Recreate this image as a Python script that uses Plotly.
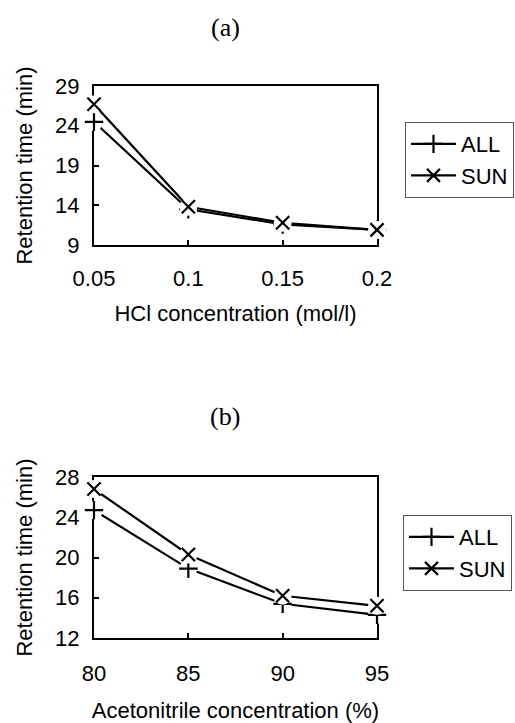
import plotly.graph_objects as go

# ---- data ----
hcl_conc = [0.05, 0.1, 0.15, 0.2]
hcl_all = [24.5, 13.5, 11.6, 10.9]
hcl_sun = [26.7, 13.8, 11.8, 10.9]

acn_conc = [80, 85, 90, 95]
acn_all = [24.7, 18.9, 15.4, 14.3]
acn_sun = [26.8, 20.3, 16.2, 15.2]

series_names = ["ALL", "SUN"]
hcl_ticks = ["0.05", "0.1", "0.15", "0.2"]
acn_ticks = ["80", "85", "90", "95"]
hcl_yticks = [9, 14, 19, 24, 29]
acn_yticks = [12, 16, 20, 24, 28]

W, H = 515, 723
FONT = "Liberation Sans"
symbols = ["cross-thin", "x-thin"]

fig = go.Figure()


def add_panel(x, ys, xa, ya, legend):
    for name, y, sym in zip(series_names, ys, symbols):
        fig.add_trace(go.Scatter(
            x=x, y=y, name=name, mode="lines+markers", xaxis=xa, yaxis=ya,
            legend=legend, cliponaxis=False,
            line=dict(color="black", width=2.2),
            marker=dict(symbol=sym, size=13, color="black",
                        line=dict(color="black", width=2.2)),
        ))
        fig.add_trace(go.Scatter(
            x=x, y=y, mode="markers", xaxis=xa, yaxis=ya, showlegend=False,
            cliponaxis=False, hoverinfo="skip",
            marker=dict(symbol="circle", size=18, color="white", line=dict(width=0)),
        ))
        fig.add_trace(go.Scatter(
            x=x, y=y, mode="markers", xaxis=xa, yaxis=ya, showlegend=False,
            cliponaxis=False, hoverinfo="skip",
            marker=dict(symbol=sym, size=13, color="black",
                        line=dict(color="black", width=2.2)),
        ))


add_panel(hcl_conc, [hcl_all, hcl_sun], "x", "y", "legend")
add_panel(acn_conc, [acn_all, acn_sun], "x2", "y2", "legend2")

L, R = 94, 377


def fy(px):
    return 1 - px / H


def fx(px):
    return (px - L) / (R - L)


axis_common = dict(
    showline=True, linecolor="black", linewidth=2, mirror=True,
    ticks="inside", ticklen=5, tickwidth=1.5, tickcolor="black",
    showgrid=False, zeroline=False, layer="below traces",
    tickfont=dict(family=FONT, size=22, color="black"),
    title_font=dict(family=FONT, size=22, color="black"),
    automargin=False,
)

legend_common = dict(
    xanchor="left", yanchor="top",
    bordercolor="#555555", borderwidth=1, bgcolor="white",
    itemwidth=45, font=dict(family=FONT, size=22, color="black"),
)

fig.update_layout(
    width=W, height=H,
    margin=dict(l=L, r=W - R, t=0, b=0),
    paper_bgcolor="white", plot_bgcolor="white",
    font=dict(family=FONT, size=22, color="black"),
    xaxis=dict(axis_common, domain=[0, 1], anchor="y", range=[0.05, 0.2],
               tickvals=hcl_conc, ticktext=hcl_ticks, ticklabelstandoff=13,
               title=dict(text="HCl concentration (mol/l)", standoff=15)),
    yaxis=dict(axis_common, domain=[fy(245), fy(86)], anchor="x", range=[9, 29],
               tickvals=hcl_yticks, ticklabelstandoff=8,
               title=dict(text="Retention time (min)", standoff=16)),
    xaxis2=dict(axis_common, domain=[0, 1], anchor="y2", range=[80, 95],
                tickvals=acn_conc, ticktext=acn_ticks, ticklabelstandoff=15,
                title=dict(text="Acetonitrile concentration (%)", standoff=19)),
    yaxis2=dict(axis_common, domain=[fy(638), fy(477)], anchor="x2", range=[12, 28],
                tickvals=acn_yticks, ticklabelstandoff=8,
                title=dict(text="Retention time (min)", standoff=16)),
    legend=dict(legend_common, x=fx(405), y=fy(122)),
    legend2=dict(legend_common, x=fx(403), y=fy(515)),
    annotations=[
        dict(text="(a)", x=fx(225), y=fy(28), xref="paper", yref="paper",
             xanchor="center", yanchor="middle", showarrow=False,
             font=dict(family="Liberation Serif", size=26, color="black")),
        dict(text="(b)", x=fx(225), y=fy(417), xref="paper", yref="paper",
             xanchor="center", yanchor="middle", showarrow=False,
             font=dict(family="Liberation Serif", size=26, color="black")),
    ],
    showlegend=True,
)

fig.write_html("out.html", config={"displayModeBar": False},
               post_script="document.body.style.margin='0';")
